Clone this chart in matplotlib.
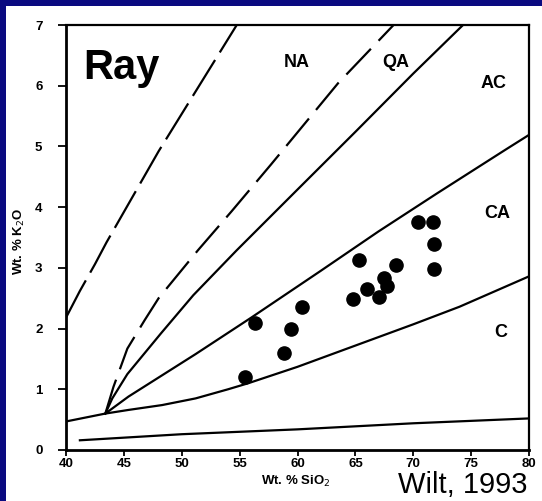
import matplotlib
matplotlib.use("Agg")
import matplotlib.pyplot as plt
from matplotlib.patches import Rectangle

# 境界線 (SiO2, K2O)
c_ca_x = [40, 43.4, 45.4, 48.3, 51.2, 54, 55.75, 60, 65, 70, 74, 80]
c_ca_y = [0.47, 0.60, 0.66, 0.74, 0.85, 1.0, 1.10, 1.37, 1.72, 2.07, 2.36, 2.86]

ca_ac_x = [43.4, 45.4, 48.3, 51.2, 56, 62, 67, 72, 78, 80]
ca_ac_y = [0.60, 0.88, 1.23, 1.58, 2.18, 2.95, 3.60, 4.22, 4.95, 5.19]

ac_qa_x = [43.4, 44.0, 45.3, 48.2, 51, 54.75, 60, 65, 70, 74.3]
ac_qa_y = [0.60, 0.85, 1.25, 1.92, 2.55, 3.29, 4.29, 5.24, 6.2, 7.0]

qa_na_x = [43.4, 44.1, 45.3, 46.8, 48.0, 51.4, 54.3, 57.7, 63.5, 68.3]
qa_na_y = [0.60, 1.04, 1.67, 2.14, 2.50, 3.29, 3.93, 4.7, 6.04, 7.0]

far_x = [40, 41.2, 42.5, 43.5, 48, 54.75]
far_y = [2.18, 2.62, 3.06, 3.42, 4.92, 7.0]

base_x = [41.2, 50, 60, 70, 80]
base_y = [0.16, 0.26, 0.34, 0.44, 0.52]

# Ray のサンプル
sio2 = [55.5, 58.8, 56.3, 59.4, 60.4, 64.8, 65.3, 66.0, 67.0, 67.5, 67.7, 68.5, 70.4, 71.7, 71.8, 71.8]
k2o = [1.21, 1.59, 2.10, 1.99, 2.35, 2.48, 3.13, 2.65, 2.52, 2.83, 2.70, 3.04, 3.76, 3.75, 3.39, 2.98]

# 領域ラベル
region_names = ["NA", "QA", "AC", "CA", "C"]
region_x = [59.9, 68.5, 76.9, 77.3, 77.6]
region_y = [6.39, 6.39, 6.04, 3.90, 1.93]

x_ticks = [40, 45, 50, 55, 60, 65, 70, 75, 80]
y_ticks = [0, 1, 2, 3, 4, 5, 6, 7]

plt.rcParams["font.family"] = ["Liberation Sans", "DejaVu Sans"]

fig = plt.figure(figsize=(5.42, 5.01), dpi=100)
fig.patch.set_facecolor("#0a0a80")
# 白い紙の部分
fig.patches.append(Rectangle((6 / 542, 0), 1, 1 - 6 / 501, transform=fig.transFigure,
                             facecolor="white", edgecolor="none", zorder=-10))

ax = fig.add_axes([66 / 542, 51 / 501, 463 / 542, 425 / 501])
ax.set_facecolor("white")

lw = 1.6
ax.plot(c_ca_x, c_ca_y, color="black", lw=lw)
ax.plot(ca_ac_x, ca_ac_y, color="black", lw=lw)
ax.plot(ac_qa_x, ac_qa_y, color="black", lw=lw)
ax.plot(qa_na_x, qa_na_y, color="black", lw=lw, dashes=(16, 5))
ax.plot(far_x, far_y, color="black", lw=lw, dashes=(19, 4))
ax.plot(base_x, base_y, color="black", lw=lw)

ax.plot(sio2, k2o, "o", color="black", ms=9.5, clip_on=False)

for name, x, y in zip(region_names, region_x, region_y):
    ax.text(x, y, name, fontsize=13, fontweight="bold", ha="center", va="center")

ax.text(44.8, 6.29, "Ray", fontsize=30, fontweight="bold", ha="center", va="center")

ax.set_xlim(40, 80)
ax.set_ylim(0, 7)
ax.set_xticks(x_ticks)
ax.set_yticks(y_ticks)
ax.tick_params(direction="out", width=1.3, labelsize=9.5)
ax.tick_params(axis="x", length=4, pad=2)
ax.tick_params(axis="y", length=6, pad=11)
for lab in ax.get_xticklabels() + ax.get_yticklabels():
    lab.set_fontweight("bold")
for s in ax.spines.values():
    s.set_linewidth(1.6)
ax.spines["left"].set_linewidth(2)
ax.spines["bottom"].set_linewidth(2)

fig.text(296 / 542, 1 - 481 / 501, "Wt. % SiO$_2$", fontsize=9.5, fontweight="bold",
         ha="center", va="center")
fig.text(19 / 542, 1 - 241 / 501, "Wt. % K$_2$O", fontsize=9.5, fontweight="bold",
         ha="center", va="center", rotation=90)
fig.text(463 / 542, 1 - 493 / 501, "Wilt, 1993", fontsize=21, ha="center", va="baseline")

fig.savefig("out.png", dpi=100, facecolor=fig.get_facecolor())
